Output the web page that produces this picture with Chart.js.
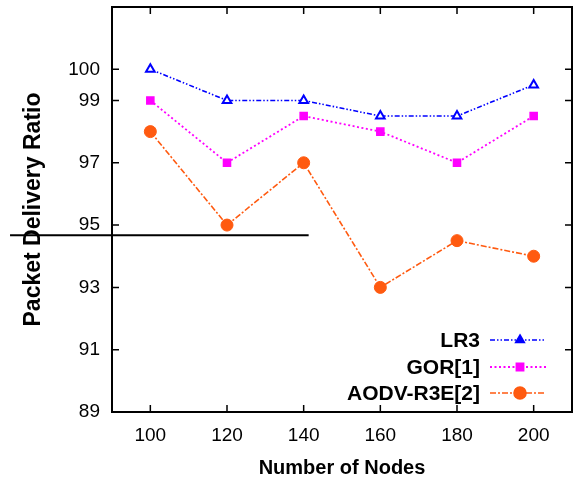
<!DOCTYPE html>
<html>
<head>
<meta charset="utf-8">
<title>Packet Delivery Ratio</title>
<script src="https://cdn.jsdelivr.net/npm/chart.js@4/dist/chart.umd.min.js"></script>
<style>
  html, body { margin: 0; padding: 0; background: #fff; }
  canvas { display: block; }
</style>
</head>
<body>
<canvas id="myChart" width="579" height="490"></canvas>
<script>
// x values (number of nodes)
var nodes = [100, 120, 140, 160, 180, 200];
// series
var lr3 = [100, 99, 99, 98.5, 98.5, 99.5];
var gor = [99, 97, 98.5, 98, 97, 98.5];
var aodv = [98, 95, 97, 93, 94.5, 94];
// tick labels
var xTicks = [100, 120, 140, 160, 180, 200];
var yTicks = [89, 91, 93, 95, 97, 99, 100];
// stray horizontal rule in the figure (data units)
var strayLine = { y: 94.67, x0: 63.4, x1: 141.3 };

function pts(ys) {
  return ys.map(function (v, i) { return { x: nodes[i], y: v }; });
}

var tickFont = { family: "'Liberation Sans Narrow', 'Arial Narrow', 'Liberation Sans', Arial, sans-serif", size: 19 };
var titleFont = { family: "'Liberation Sans', Arial, sans-serif", weight: 'bold' };

// frame, inward tick marks, stray line
var framePlugin = {
  id: 'frame',
  afterDraw: function (chart) {
    var ctx = chart.ctx, a = chart.chartArea;
    var xs = chart.scales.x, ys = chart.scales.y;
    ctx.save();
    ctx.strokeStyle = '#000';
    ctx.lineWidth = 2;
    ctx.strokeRect(a.left, a.top, a.right - a.left, a.bottom - a.top);
    ctx.lineWidth = 1.5;
    ctx.beginPath();
    xTicks.forEach(function (t) {
      var px = xs.getPixelForValue(t);
      ctx.moveTo(px, a.bottom); ctx.lineTo(px, a.bottom - 7);
      ctx.moveTo(px, a.top); ctx.lineTo(px, a.top + 7);
    });
    yTicks.forEach(function (t) {
      var py = ys.getPixelForValue(t);
      ctx.moveTo(a.left, py); ctx.lineTo(a.left + 7, py);
      ctx.moveTo(a.right, py); ctx.lineTo(a.right - 7, py);
    });
    ctx.stroke();
    // stray line
    ctx.lineWidth = 2;
    ctx.beginPath();
    var sy = ys.getPixelForValue(strayLine.y);
    ctx.moveTo(xs.getPixelForValue(strayLine.x0), sy);
    ctx.lineTo(xs.getPixelForValue(strayLine.x1), sy);
    ctx.stroke();
    ctx.restore();
  }
};

// legend in the lower right of the plot
var legendPlugin = {
  id: 'innerLegend',
  afterDraw: function (chart) {
    var ctx = chart.ctx, a = chart.chartArea;
    var rows = [72, 45, 19];
    ctx.save();
    chart.data.datasets.forEach(function (ds, i) {
      var y = a.bottom - rows[i];
      ctx.fillStyle = '#000';
      ctx.font = "bold 21px 'Liberation Sans', Arial, sans-serif";
      ctx.textAlign = 'right';
      ctx.textBaseline = 'middle';
      ctx.fillText(ds.label, a.right - 92, y + 1);
      ctx.strokeStyle = ds.borderColor;
      ctx.lineWidth = ds.borderWidth;
      ctx.setLineDash(ds.borderDash);
      ctx.beginPath();
      ctx.moveTo(a.right - 82, y);
      ctx.lineTo(a.right - 26, y);
      ctx.stroke();
      ctx.setLineDash([]);
      Chart.helpers.drawPoint(ctx, {
        pointStyle: ds.pointStyle,
        radius: ds.pointRadius,
        borderWidth: 1.5,
        rotation: 0
      }, a.right - 52, y);
      ctx.fillStyle = ds.borderColor;
      ctx.fill();
    });
    ctx.restore();
  }
};

var ctx = document.getElementById('myChart');
var myChart = new Chart(ctx, {
  type: 'line',
  data: {
    datasets: [
      {
        label: 'LR3',
        data: pts(lr3),
        borderColor: '#0000ff',
        borderWidth: 1.6,
        borderDash: [5, 2, 1.5, 2, 1.5, 2],
        pointStyle: 'triangle',
        pointRadius: 5,
        pointBorderWidth: 2,
        pointBackgroundColor: '#ffffff',
        pointBorderColor: '#0000ff',
        fill: false
      },
      {
        label: 'GOR[1]',
        data: pts(gor),
        borderColor: '#ff00ff',
        borderWidth: 1.8,
        borderDash: [2, 2.5],
        pointStyle: 'rect',
        pointRadius: 5,
        pointBorderWidth: 1.5,
        pointBackgroundColor: '#ff00ff',
        pointBorderColor: '#ff00ff',
        fill: false
      },
      {
        label: 'AODV-R3E[2]',
        data: pts(aodv),
        borderColor: '#ff5a10',
        borderWidth: 1.6,
        borderDash: [6, 2, 2, 2],
        pointStyle: 'circle',
        pointRadius: 6,
        pointBorderWidth: 1,
        pointBackgroundColor: '#ff5a10',
        pointBorderColor: '#ff5a10',
        fill: false
      }
    ]
  },
  options: {
    responsive: false,
    animation: false,
    devicePixelRatio: 1,
    layout: { padding: { top: 6, right: 5, left: 0, bottom: 0 } },
    plugins: { legend: { display: false }, tooltip: { enabled: false } },
    scales: {
      x: {
        type: 'linear',
        min: 90,
        max: 210,
        afterBuildTicks: function (s) { s.ticks = xTicks.map(function (v) { return { value: v }; }); },
        afterFit: function (s) { s.height = 78; s.paddingLeft = 0; s.paddingRight = 0; },
        grid: { display: false, drawTicks: false },
        border: { display: false },
        ticks: { color: '#000', font: tickFont, padding: 12, maxRotation: 0 },
        title: { display: true, text: 'Number of Nodes', color: '#000', font: Object.assign({ size: 20 }, titleFont), padding: { top: 0, bottom: 10 } }
      },
      y: {
        min: 89,
        max: 102,
        afterBuildTicks: function (s) { s.ticks = yTicks.map(function (v) { return { value: v }; }); },
        afterFit: function (s) { s.width = 112; s.paddingTop = 0; s.paddingBottom = 0; },
        grid: { display: false, drawTicks: false },
        border: { display: false },
        ticks: { color: '#000', font: tickFont, padding: 12 },
        title: { display: true, text: 'Packet Delivery Ratio', color: '#000', font: Object.assign({ size: 23 }, titleFont), padding: { top: 20, bottom: 0 } }
      }
    }
  },
  plugins: [framePlugin, legendPlugin]
});
</script>
</body>
</html>
